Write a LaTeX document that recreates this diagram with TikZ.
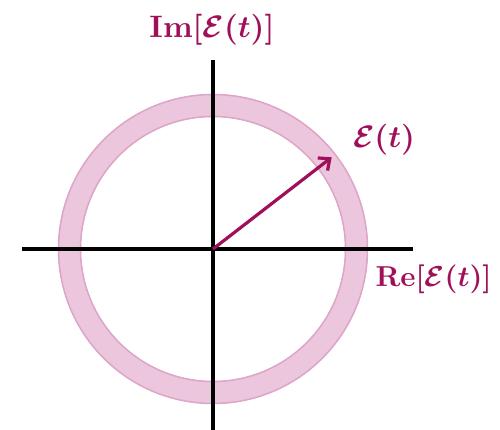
\documentclass[tikz,border=0pt]{standalone}
\usepackage{amsmath}
\usepackage{tikz}
\usetikzlibrary{positioning,arrows.meta,calc}
\definecolor{ringpink}{RGB}{235,198,220}
\definecolor{ringedge}{RGB}{222,165,200}
\definecolor{plum}{RGB}{160,16,90}
\tikzset{
  axisline/.style={line width=3.2pt,black},
  lbl/.style={text=plum,scale=3.1,inner sep=0pt,font=\boldmath}
}

\begin{document}
\begin{tikzpicture}[x=1pt,y=1pt]
  \useasboundingbox (-213,-181) rectangle (287,249);
  % ring
  \draw[ringpink,line width=23pt] (0,0) circle (143.5);
  \draw[ringedge,line width=1.5pt] (0,0) circle (132.5);
  \draw[ringedge,line width=1.5pt] (0,0) circle (154.5);
  % axes
  \coordinate (o) at (0,0);
  \coordinate (xl) at (-191,0);
  \coordinate (xr) at (200,0);
  \coordinate (yb) at (0,-182);
  \coordinate (yt) at (0,189);
  \draw[axisline] (xl) -- (xr);
  \draw[axisline] (yb) -- (yt);
  % phasor
  \coordinate (tip) at (118.7,91.7);
  \draw[plum,line width=3.2pt,-{Straight Barb[length=9pt,width=16pt]}] (o) -- (tip);
  \node[lbl] (imlbl) at (-1,219) {$\mathbf{Im}[\mathcal{E}(t)]$};
  \node[lbl] (elbl) at (171,109) {$\mathcal{E}(t)$};
  \node[lbl,scale=0.93,anchor=west] (relbl) at (162,-30) {$\mathbf{Re}[\mathcal{E}(t)]$};
\end{tikzpicture}
\end{document}
